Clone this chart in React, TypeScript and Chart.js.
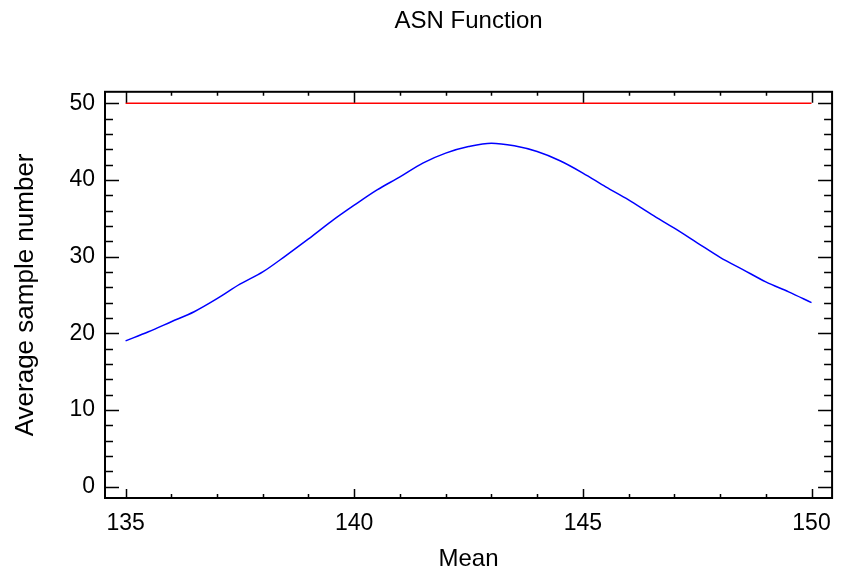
import React, { useEffect, useRef } from "react";
import { Chart, registerables } from "chart.js";

Chart.register(...registerables);

// Data
const meanValues = [
  135, 135.5, 136, 136.5, 137, 137.5, 138, 138.5, 139, 139.5, 140, 140.5, 141, 141.5, 142, 142.5,
  143, 143.5, 144, 144.5, 145, 145.5, 146, 146.5, 147, 147.5, 148, 148.5, 149, 149.5, 150,
];
const asnValues = [
  19.0, 20.2, 21.5, 22.8, 24.5, 26.4, 28.0, 30.1, 32.3, 34.6, 36.7, 38.7, 40.4, 42.2, 43.5, 44.35,
  44.8, 44.45, 43.7, 42.5, 40.9, 39.1, 37.4, 35.5, 33.7, 31.8, 29.9, 28.3, 26.7, 25.4, 24.0,
];
const fixedMeans = [135, 150];
const fixedSampleSize = [50, 50];

const xMajorTicks = [135, 140, 145, 150];
const xMinorTicks = [136, 137, 138, 139, 141, 142, 143, 144, 146, 147, 148, 149];
const yMajorTicks = [0, 10, 20, 30, 40, 50];
const yMinorTicks = [2, 4, 6, 8, 12, 14, 16, 18, 22, 24, 26, 28, 32, 34, 36, 38, 42, 44, 46, 48];

const FONT = "'Liberation Sans', Arial, sans-serif";

const frameTicksPlugin = {
  id: "frameTicks",
  afterDraw(chart: any) {
    const { ctx, chartArea } = chart;
    const { left, right, top, bottom } = chartArea;
    const xs = chart.scales.x;
    const ys = chart.scales.y;
    ctx.save();
    ctx.strokeStyle = "#000";
    ctx.lineWidth = 2;
    ctx.strokeRect(left, top, right - left, bottom - top);
    ctx.lineWidth = 1.5;
    ctx.beginPath();
    const xt = (vals: number[], lb: number, lt: number) => {
      vals.forEach((v) => {
        const p = Math.round(xs.getPixelForValue(v)) + 0.5;
        ctx.moveTo(p, bottom);
        ctx.lineTo(p, bottom - lb);
        ctx.moveTo(p, top);
        ctx.lineTo(p, top + lt);
      });
    };
    const yt = (vals: number[], len: number) => {
      vals.forEach((v) => {
        const p = Math.round(ys.getPixelForValue(v)) + 0.5;
        ctx.moveTo(left, p);
        ctx.lineTo(left + len, p);
        ctx.moveTo(right, p);
        ctx.lineTo(right - len, p);
      });
    };
    xt(xMajorTicks, 9, 11);
    xt(xMinorTicks, 4, 4);
    yt(yMajorTicks, 14);
    yt(yMinorTicks, 8);
    ctx.stroke();
    ctx.restore();
  },
};

export default function App() {
  const canvasRef = useRef<HTMLCanvasElement | null>(null);

  useEffect(() => {
    const canvas = canvasRef.current;
    if (!canvas) return;
    const chart = new Chart(canvas, {
      type: "line",
      data: {
        datasets: [
          {
            label: "ASN",
            data: meanValues.map((m, i) => ({ x: m, y: asnValues[i] })),
            borderColor: "#0000ff",
            borderWidth: 1.5,
            pointRadius: 0,
            cubicInterpolationMode: "monotone",
            fill: false,
          },
          {
            label: "Fixed",
            data: fixedMeans.map((m, i) => ({ x: m, y: fixedSampleSize[i] })),
            borderColor: "#ff0000",
            borderWidth: 1.5,
            pointRadius: 0,
            fill: false,
          },
        ],
      },
      options: {
        responsive: false,
        animation: false,
        layout: { padding: { left: 0, right: 3, top: 0, bottom: 0 } },
        plugins: {
          legend: { display: false },
          tooltip: { enabled: false },
          title: {
            display: true,
            fullSize: false,
            text: "ASN Function",
            color: "#000",
            font: { family: FONT, size: 24, weight: "normal", lineHeight: 1.2 },
            padding: { top: 7, bottom: 56 },
          },
        },
        scales: {
          x: {
            type: "linear",
            min: 134.55,
            max: 150.45,
            grid: { display: false, drawTicks: false },
            border: { display: false },
            afterBuildTicks: (scale: any) => {
              scale.ticks = xMajorTicks.map((v) => ({ value: v }));
            },
            afterFit: (scale: any) => {
              scale.height = 76;
            },
            ticks: {
              color: "#000",
              padding: 12,
              maxRotation: 0,
              font: { family: FONT, size: 23 },
              callback: (v: any) => String(v),
            },
            title: {
              display: true,
              text: "Mean",
              color: "#000",
              font: { family: FONT, size: 24, lineHeight: 1.2 },
              padding: { top: 0, bottom: 0 },
            },
          },
          y: {
            type: "linear",
            min: -1.5,
            max: 51.5,
            grid: { display: false, drawTicks: false },
            border: { display: false },
            afterBuildTicks: (scale: any) => {
              scale.ticks = yMajorTicks.map((v) => ({ value: v }));
            },
            afterFit: (scale: any) => {
              scale.width = 105;
            },
            ticks: {
              color: "#000",
              padding: 10,
              font: { family: FONT, size: 23 },
              callback: (v: any) => String(v),
            },
            title: {
              display: true,
              text: "Average sample number",
              color: "#000",
              font: { family: FONT, size: 26, lineHeight: 1.2 },
              padding: { top: 10, bottom: 0 },
            },
          },
        },
      },
      plugins: [frameTicksPlugin],
    } as any);
    return () => chart.destroy();
  }, []);

  return (
    <div style={{ position: "absolute", left: 0, top: 0, width: 843, height: 574, background: "#fff" }}>
      <canvas ref={canvasRef} width={843} height={574} style={{ display: "block" }} />
    </div>
  );
}
